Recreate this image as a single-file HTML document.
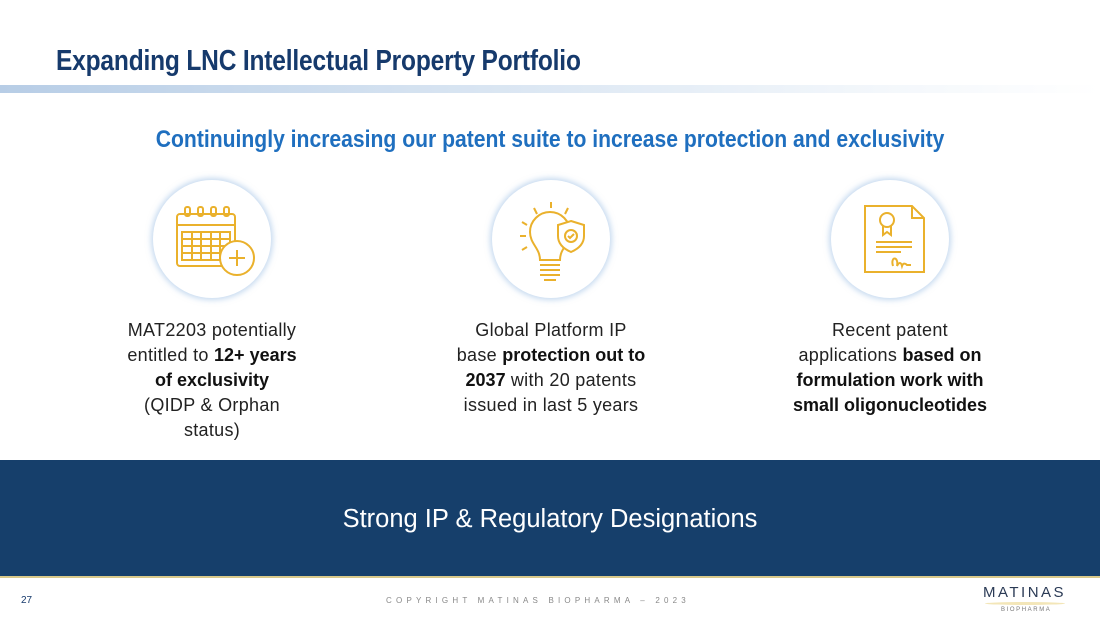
<!DOCTYPE html>
<html><head><meta charset="utf-8"><style>
*{margin:0;padding:0;box-sizing:border-box}
body{width:1100px;height:619px;position:relative;background:#fff;overflow:hidden;font-family:"Liberation Sans",sans-serif}
.abs{position:absolute}
.title{left:56px;top:45px;font-size:29px;font-weight:bold;color:#163a6c;white-space:nowrap;transform:scaleX(0.845);transform-origin:left top;letter-spacing:-0.2px}
.bar{left:0;top:85px;width:1100px;height:8px;background:linear-gradient(90deg,#b7cde6 0%,#d6e3f1 40%,#f3f7fb 80%,#fff 100%)}
.sub{left:0;width:1100px;top:126px;text-align:center;color:#1f6fbf;font-size:24px;font-weight:bold;white-space:nowrap}
.sub span{display:inline-block;transform:scaleX(0.88)}
.circ{width:118px;height:118px;border-radius:50%;background:#fff;box-shadow:0 0 6px 2px rgba(150,185,225,.55)}
.txt{width:280px;text-align:center;font-size:18px;line-height:25px;color:#222;top:318px;letter-spacing:0.3px}
.txt b{color:#111;font-weight:bold;letter-spacing:0}
.band{left:0;top:460px;width:1100px;height:118px;background:#163f6b;border-bottom:2px solid #d9c98a}
.band div{text-align:center;color:#fff;font-size:25.5px;margin-top:45px}
</style></head><body>
<div class="abs title">Expanding LNC Intellectual Property Portfolio</div>
<div class="abs bar"></div>
<div class="abs sub"><span>Continuingly increasing our patent suite to increase protection and exclusivity</span></div>

<div class="abs circ" style="left:153px;top:180px">
<svg width="118" height="118" viewBox="0 0 118 118" fill="none" stroke="#eab12c" stroke-width="2">
<rect x="24" y="34" width="58" height="52" rx="3"/><line x1="24" y1="45" x2="82" y2="45"/>
<rect x="29" y="52" width="48" height="28"/>
<line x1="39" y1="52" x2="39" y2="80"/><line x1="48" y1="52" x2="48" y2="80"/><line x1="58" y1="52" x2="58" y2="80"/><line x1="67" y1="52" x2="67" y2="80"/>
<line x1="29" y1="59" x2="77" y2="59"/><line x1="29" y1="66" x2="77" y2="66"/><line x1="29" y1="73" x2="77" y2="73"/>
<rect x="32" y="27" width="5" height="9" rx="2"/><rect x="45" y="27" width="5" height="9" rx="2"/><rect x="58" y="27" width="5" height="9" rx="2"/><rect x="71" y="27" width="5" height="9" rx="2"/>
<circle cx="84" cy="78" r="17" fill="#fff"/><line x1="84" y1="70" x2="84" y2="86"/><line x1="76" y1="78" x2="92" y2="78"/>
</svg></div>
<div class="abs circ" style="left:492px;top:180px">
<svg width="118" height="118" viewBox="0 0 118 118" fill="none" stroke="#eab12c" stroke-width="2">
<path d="M48 80 C48 68 38 64 38 52 a20 20 0 0 1 40 0 C78 64 68 68 68 80 Z"/>
<line x1="48" y1="85" x2="68" y2="85"/><line x1="48" y1="90" x2="68" y2="90"/><line x1="48" y1="95" x2="68" y2="95"/><line x1="52" y1="100" x2="64" y2="100"/>
<path d="M79 41 L92 45 L92 56 C92 64 86 69 79 72 C72 69 66 64 66 56 L66 45 Z" fill="#fff"/>
<circle cx="79" cy="56" r="6"/><path d="M76 56 l2 2 l4 -4"/>
<line x1="59" y1="22" x2="59" y2="28"/><line x1="42" y1="28" x2="45" y2="34"/><line x1="76" y1="28" x2="73" y2="34"/>
<line x1="30" y1="42" x2="35" y2="45"/><line x1="28" y1="56" x2="34" y2="56"/><line x1="30" y1="70" x2="35" y2="67"/>
</svg></div>
<div class="abs circ" style="left:831px;top:180px">
<svg width="118" height="118" viewBox="0 0 118 118" fill="none" stroke="#eab12c" stroke-width="2">
<path d="M34 26 L81 26 L93 38 L93 92 L34 92 Z"/><path d="M81 26 L81 38 L93 38"/>
<circle cx="56" cy="40" r="7"/><path d="M52 46 L52 55 L56 52 L60 55 L60 46"/>
<line x1="45" y1="62" x2="81" y2="62"/><line x1="45" y1="67" x2="81" y2="67"/><line x1="45" y1="72" x2="70" y2="72"/>
<path d="M62 86 c-3 -10 6 -10 4 0 c2 -4 4 -4 5 0 c1 -3 3 -3 5 -1 l4 0"/>
</svg></div>

<div class="abs txt" style="left:72px">MAT2203 potentially<br>entitled to <b>12+ years<br>of exclusivity</b><br>(QIDP &amp; Orphan<br>status)</div>
<div class="abs txt" style="left:411px">Global Platform IP<br>base <b>protection out to<br>2037</b> with 20 patents<br>issued in last 5 years</div>
<div class="abs txt" style="left:750px">Recent patent<br>applications <b>based on<br>formulation work with<br>small oligonucleotides</b></div>

<div class="abs band"><div>Strong IP &amp; Regulatory Designations</div></div>

<div class="abs" style="left:21px;top:595px;font-size:10px;color:#163a6c">27</div>
<div class="abs" style="left:0;width:1076px;top:596px;text-align:center;font-size:8px;letter-spacing:4.2px;color:#888">COPYRIGHT MATINAS BIOPHARMA – 2023</div>
<div class="abs" style="left:983px;top:584px;font-size:15px;letter-spacing:2.5px;color:#2a3a55">MATINAS</div>
<div class="abs" style="left:985px;top:602px;width:80px;height:3px;border-radius:50%;background:#f3e6b8"></div>
<div class="abs" style="left:1001px;top:607px;font-size:6px;letter-spacing:1.6px;color:#777">BIOPHARMA</div>
</body></html>
